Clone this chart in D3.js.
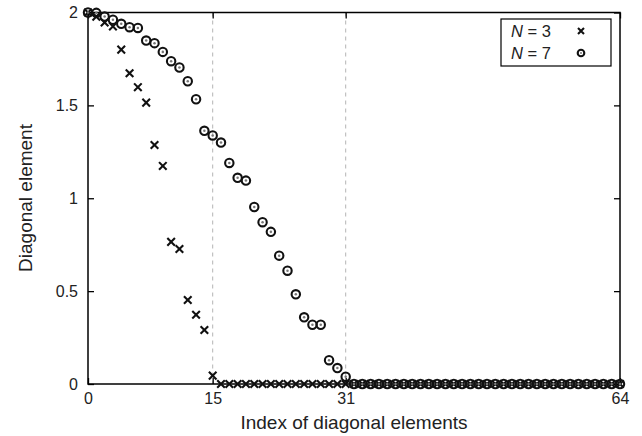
<!DOCTYPE html>
<html>
<head>
<meta charset="utf-8">
<script src="https://cdn.jsdelivr.net/npm/d3@7"></script>
<style>
  body { margin: 0; background: #fff; }
  svg { font-family: "Liberation Sans", Arial, sans-serif; }
</style>
</head>
<body>
<svg id="chart" width="642" height="436"></svg>
<script>
// Diagonal elements, index 0..64.
let n3Values = [
  2.000, 1.978, 1.946, 1.925, 1.800, 1.673, 1.598, 1.515, 1.287, 1.174,
  0.765, 0.727, 0.452, 0.373, 0.291, 0.045, 0, 0, 0, 0,
  0, 0, 0, 0, 0, 0, 0, 0, 0, 0,
  0, 0, 0, 0, 0, 0, 0, 0, 0, 0,
  0, 0, 0, 0, 0, 0, 0, 0, 0, 0,
  0, 0, 0, 0, 0, 0, 0, 0, 0, 0,
  0, 0, 0, 0, 0
];
let n7Values = [
  2.000, 1.998, 1.978, 1.961, 1.939, 1.921, 1.917, 1.849, 1.835, 1.788,
  1.738, 1.704, 1.630, 1.533, 1.363, 1.338, 1.300, 1.190, 1.110, 1.095,
  0.953, 0.871, 0.819, 0.691, 0.610, 0.483, 0.359, 0.319, 0.319, 0.128,
  0.086, 0.039, 0, 0, 0, 0, 0, 0, 0, 0,
  0, 0, 0, 0, 0, 0, 0, 0, 0, 0,
  0, 0, 0, 0, 0, 0, 0, 0, 0, 0,
  0, 0, 0, 0, 0
];
let xTicks = [0, 15, 31, 64];
let yTicks = [0, 0.5, 1, 1.5, 2];
let gridAt = [15, 31];
let legendLabels = ['3', '7'];

let svg = d3.select('#chart');
let x = d3.scaleLinear().domain([0, 64]).range([88, 620]);
let y = d3.scaleLinear().domain([0, 2]).range([384, 12.5]);

// dashed guide lines
svg.selectAll('line.grid')
    .data(gridAt)
    .join('line')
    .attr('class', 'grid')
    .attr('x1', d => x(d)).attr('x2', d => x(d))
    .attr('y1', y(2)).attr('y2', y(0))
    .attr('stroke', '#b4b4b4')
    .attr('stroke-width', 1)
    .attr('stroke-dasharray', '4,4');

let styleAxis = function(g, size) {
  g.select('.domain').remove();
  g.selectAll('line').attr('stroke', '#000').attr('stroke-width', 1.3);
  g.selectAll('text').attr('fill', '#222').style('font-size', size);
};

svg.append('g')
    .attr('transform', 'translate(0,' + y(0) + ')')
    .call(d3.axisBottom(x).tickValues(xTicks).tickSize(-6).tickPadding(9)
        .tickFormat(d3.format('d')))
    .call(g => styleAxis(g, '16px'));
svg.append('g')
    .attr('transform', 'translate(0,' + y(2) + ')')
    .call(d3.axisTop(x).tickValues(xTicks).tickSize(-6).tickFormat(''))
    .call(g => styleAxis(g, '16px'));
svg.append('g')
    .attr('transform', 'translate(' + x(0) + ',0)')
    .call(d3.axisLeft(y).tickValues(yTicks).tickSize(-6).tickPadding(10)
        .tickFormat(d => d))
    .call(g => styleAxis(g, '16px'));
svg.append('g')
    .attr('transform', 'translate(' + x(64) + ',0)')
    .call(d3.axisRight(y).tickValues(yTicks).tickSize(-6).tickFormat(''))
    .call(g => styleAxis(g, '16px'));

// frame
svg.append('rect')
    .attr('x', x(0)).attr('y', y(2))
    .attr('width', x(64) - x(0)).attr('height', y(0) - y(2))
    .attr('fill', 'none').attr('stroke', '#000').attr('stroke-width', 1.5);

let crossPath = s => 'M' + -s + ',' + -s + 'L' + s + ',' + s +
    'M' + -s + ',' + s + 'L' + s + ',' + -s;

function drawCross(sel, s) {
  sel.append('path').attr('d', crossPath(s))
      .attr('stroke', '#111').attr('stroke-width', 2.1).attr('fill', 'none');
}
function drawRing(sel, r) {
  sel.append('circle').attr('r', r)
      .attr('fill', 'none').attr('stroke', '#111').attr('stroke-width', 2.1);
  sel.append('circle').attr('r', r * 0.3).attr('fill', '#777');
}

svg.append('g').selectAll('g')
    .data(n3Values)
    .join('g')
    .attr('transform', (d, i) => 'translate(' + x(i) + ',' + y(d) + ')')
    .call(g => drawCross(g, 3.8));

svg.append('g').selectAll('g')
    .data(n7Values)
    .join('g')
    .attr('transform', (d, i) => 'translate(' + x(i) + ',' + y(d) + ')')
    .call(g => drawRing(g, 4.2));

// axis titles
svg.append('text')
    .attr('x', (x(0) + x(64)) / 2).attr('y', 429)
    .attr('text-anchor', 'middle')
    .attr('fill', '#222')
    .style('font-size', '19px')
    .text('Index of diagonal elements');
svg.append('text')
    .attr('transform', 'translate(32,198) rotate(-90)')
    .attr('text-anchor', 'middle')
    .attr('fill', '#222')
    .style('font-size', '19px')
    .text('Diagonal element');

// legend
let legend = svg.append('g');
legend.append('rect')
    .attr('x', 501).attr('y', 19).attr('width', 110).attr('height', 47)
    .attr('fill', '#fff').attr('stroke', '#000').attr('stroke-width', 1.2);
let rows = legend.selectAll('g.row')
    .data(legendLabels)
    .join('g')
    .attr('class', 'row')
    .attr('transform', (d, i) => 'translate(0,' + (31 + i * 22) + ')');
let label = rows.append('text')
    .attr('x', 511).attr('y', 6)
    .attr('fill', '#222')
    .style('font-size', '16.5px');
label.append('tspan').style('font-style', 'italic').text('N');
label.append('tspan').text(d => ' = ' + d);
rows.filter((d, i) => i === 0).append('g')
    .attr('transform', 'translate(581,0)')
    .call(g => drawCross(g, 3));
rows.filter((d, i) => i === 1).append('g')
    .attr('transform', 'translate(581,0)')
    .call(g => drawRing(g, 3.3));
</script>
</body>
</html>
